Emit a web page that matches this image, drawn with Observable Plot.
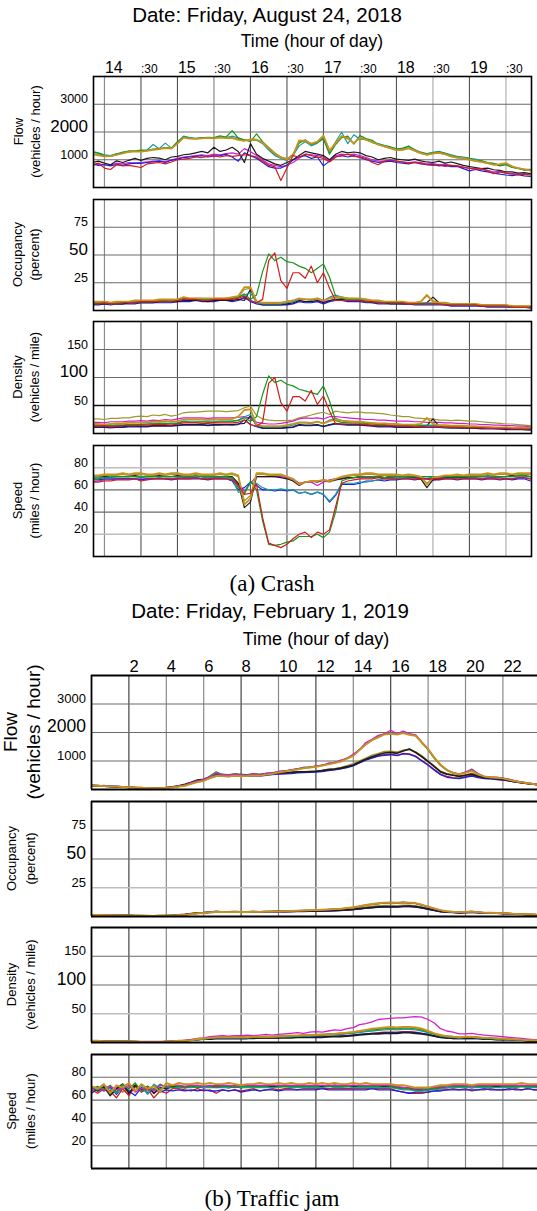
<!DOCTYPE html>
<html>
<head>
<meta charset="utf-8">
<script src="https://cdn.jsdelivr.net/npm/d3@7"></script>
<script src="https://cdn.jsdelivr.net/npm/@observablehq/plot@0.6"></script>
<style>
html,body{margin:0;padding:0;background:#fff;}
body{width:537px;height:1211px;position:relative;overflow:hidden;}
#page{position:relative;width:537px;height:1211px;}
#page svg{position:absolute;left:0;}
</style>
</head>
<body>
<div id="page"></div>
<script>
// ---------------- categories / ticks ----------------
const seriesKeys = ["olive","teal","green","gold","magenta","blue","black","red"];
const seriesColors = {olive:"#9c9a2e", teal:"#189ea8", green:"#18961a", gold:"#c8921c", magenta:"#d21ed2", blue:"#1e1ee0", black:"#1c1c1c", red:"#d21c1c"};

const titleA = "Date: Friday, August 24, 2018";
const titleB = "Date: Friday, February 1, 2019";
const timeTitle = "Time (hour of day)";
const captionA = "(a) Crash";
const captionB = "(b) Traffic jam";

const xTicksA = [14,14.5,15,15.5,16,16.5,17,17.5,18,18.5,19,19.5];
const xLabelsA = ["14",":30","15",":30","16",":30","17",":30","18",":30","19",":30"];
const xTicksB = [2,4,6,8,10,12,14,16,18,20,22];
const xLabelsB = ["2","4","6","8","10","12","14","16","18","20","22"];

const flowTicks = [1000,2000,3000];
const occTicks = [25,50,75];
const densTicks = [50,100,150];
const speedTicks = [20,40,60,80];
const flowLabel = ["Flow","(vehicles / hour)"];
const occLabel = ["Occupancy","(percent)"];
const densLabel = ["Density","(vehicles / mile)"];
const speedLabel = ["Speed","(miles / hour)"];

// sample times: (a) every 5 min from 13:50, (b) every 20 min from 0:00
const timesA = d3.range(73).map(i => 13 + 50/60 + i*5/60);
const timesB = d3.range(73).map(i => i/3);

// ---------------- (a) Crash: Flow ----------------
const aFlowGreen = [1280,1230,1150,1120,1200,1280,1300,1320,1350,1340,1380,1400,1430,1420,1650,1830,1790,1760,1790,1810,1800,1860,1820,2050,1780,1720,1650,1930,1650,1400,1200,1100,1000,1200,1600,1720,1550,1620,1750,1200,1550,1800,1850,1560,1870,1760,1700,1560,1500,1470,1380,1420,1480,1370,1260,1200,1260,1280,1240,1150,1100,1080,1040,980,960,900,870,780,820,720,690,620,640];
const aFlowTeal = [1300,1250,1180,1150,1220,1250,1320,1300,1330,1350,1550,1400,1600,1420,1620,1850,1800,1770,1800,1780,1790,1820,1800,1850,1790,1700,1720,1700,1580,1350,1150,1050,980,1150,1500,1650,1500,1600,1800,1250,1650,1990,1580,1900,1740,1720,1620,1580,1520,1450,1400,1380,1500,1340,1280,1220,1270,1300,1230,1180,1120,1100,1050,1020,960,880,860,800,840,730,700,660,650];
const aFlowGold = [1200,1160,1120,1130,1180,1230,1280,1300,1290,1320,1360,1380,1420,1400,1580,1800,1760,1750,1770,1790,1770,1800,1780,1780,1720,1680,1730,1720,1620,1420,1230,1080,1020,1150,1700,1680,1580,1650,1870,1330,1600,1850,1780,1600,1800,1720,1640,1550,1480,1420,1350,1360,1420,1330,1240,1180,1230,1250,1200,1120,1080,1060,1000,960,920,880,820,840,880,760,700,650,620];
const aFlowOlive = [1220,1180,1140,1150,1200,1240,1290,1310,1300,1330,1370,1390,1440,1410,1600,1810,1770,1760,1780,1800,1780,1810,1790,1800,1740,1690,1740,1730,1640,1450,1250,1100,1040,1170,1680,1660,1560,1630,1850,1320,1580,1830,1760,1590,1780,1710,1630,1540,1470,1410,1340,1350,1410,1320,1230,1170,1220,1240,1190,1110,1070,1050,990,950,910,870,810,830,860,750,690,640,610];
const aFlowBlack = [900,950,880,820,960,900,980,1050,980,1050,1080,1060,1000,1100,1120,1180,1200,1250,1300,1250,1450,1300,1350,1450,1300,900,1580,1200,1050,950,850,800,900,1000,1150,1300,1250,1200,1150,1000,1200,1300,1250,1280,1250,1150,1100,1000,1050,1080,1020,1000,980,1020,960,920,900,950,880,920,860,800,750,720,680,700,640,620,560,560,520,540,500];
const aFlowRed = [820,880,700,650,820,780,800,760,720,850,880,900,850,920,1000,1020,1050,1100,1080,1120,1150,1100,1150,1120,1150,1180,1150,1100,950,800,750,250,700,1150,1100,1200,1150,1100,1050,920,1100,1150,1200,1120,1100,1050,900,820,950,1000,950,920,880,900,880,820,800,820,760,800,780,720,700,650,680,600,500,560,520,480,460,480,450];
const aFlowBlue = [850,800,820,780,830,800,850,880,870,900,920,950,900,980,1020,1080,1100,1120,1150,1100,1130,1150,1200,1100,950,1250,1150,1050,900,750,700,700,800,1000,1100,1150,1050,1100,780,950,1100,1150,1100,1150,1080,1000,950,900,920,950,900,880,850,900,850,820,830,780,800,750,760,680,600,650,600,560,520,480,450,430,460,420,400];
const aFlowMagenta = [800,850,820,800,880,850,900,880,900,920,950,960,930,1000,1050,1100,1120,1150,1180,1150,1200,1180,1220,1250,1200,1400,1300,1150,1000,850,800,750,800,900,1050,1200,1180,1150,1100,950,1150,1200,1180,1200,1150,1080,1000,950,950,980,950,920,900,920,900,850,860,820,840,800,780,740,680,700,650,620,560,580,520,500,480,500,480];

// ---------------- (a) Crash: Occupancy ----------------
const aOccGold = [8,8,8,7,8,8,8,9,9,9,9,10,10,10,10,12,11,11,11,11,11,11,11,12,13,21,21,8,7,7,7,7,8,9,11,10,10,11,9,11,12,12,11,11,11,10,9,9,8,8,8,8,7,7,8,14,8,7,7,6,6,6,6,6,5,5,5,5,5,4,4,4,4];
const aOccOlive = [7,7,8,7,8,8,8,9,9,9,9,9,10,9,10,11,11,11,11,10,11,11,11,11,12,19,20,8,7,7,7,7,8,9,10,10,10,10,9,11,12,11,11,11,10,10,9,9,8,8,8,7,7,7,8,13,9,7,7,6,6,6,6,5,5,5,5,5,4,4,4,4,4];
const aOccTeal = [7,7,7,6,7,7,8,8,8,8,8,9,9,9,9,11,10,10,10,10,10,10,11,11,12,14,16,7,6,6,6,6,7,8,10,10,9,11,9,12,14,12,11,10,10,10,9,8,8,7,7,7,7,6,7,7,7,6,6,6,5,5,5,5,5,5,4,4,4,4,3,3,3];
const aOccGreen = [7,7,7,6,7,7,8,8,8,8,8,9,9,8,9,11,10,10,10,10,10,10,10,11,12,15,10,14,35,51,45,48,44,43,40,38,34,38,42,30,13,11,10,10,10,9,8,8,7,7,7,7,7,6,6,6,6,6,6,5,5,5,5,5,5,4,4,4,4,3,3,3,3];
const aOccRed = [6,6,7,6,6,7,7,7,8,8,8,8,8,8,9,10,10,10,9,9,10,10,10,10,11,13,9,7,10,45,52,27,20,34,34,29,40,25,34,20,9,9,9,9,9,8,8,7,7,7,7,7,6,6,6,6,6,6,5,5,5,5,5,5,4,4,4,4,4,3,3,3,3];
const aOccBlack = [6,6,6,6,6,6,7,7,7,7,7,8,8,8,8,9,9,9,9,8,9,9,9,9,10,9,19,8,5,5,5,5,6,7,9,8,8,9,7,9,10,10,9,9,9,8,7,7,7,6,6,6,6,6,6,7,12,7,6,5,5,5,5,5,4,4,4,4,4,3,3,3,3];
const aOccBlue = [5,5,6,5,6,6,6,6,7,7,7,7,7,7,8,8,8,9,8,8,8,9,9,8,9,12,8,6,5,5,5,5,5,6,8,7,7,8,6,8,9,9,8,8,8,7,7,6,6,6,6,6,6,5,5,5,5,5,5,4,4,4,4,4,4,3,3,3,3,3,3,3,2];
const aOccMagenta = [6,6,6,6,6,6,7,7,7,7,7,8,8,8,8,9,9,9,9,9,9,9,9,9,10,11,9,7,6,6,6,6,6,7,9,8,8,9,8,9,10,10,9,9,9,8,8,7,7,7,7,6,6,6,6,6,6,6,5,5,5,5,5,5,4,4,4,4,4,4,3,3,3];

// ---------------- (a) Crash: Density ----------------
const aDensOlive = [26,26,25,27,27,28,28,30,31,30,33,32,34,31,33,37,38,38,39,40,40,40,39,40,41,46,49,32,26,24,23,23,23,24,28,30,33,36,38,34,40,38,37,38,38,37,37,36,35,33,32,30,30,28,27,26,26,24,24,23,24,23,22,22,21,20,19,18,17,17,16,15,14];
const aDensMagenta = [20,20,19,21,21,21,22,22,23,22,24,23,25,24,26,28,28,28,28,27,28,28,28,28,29,30,27,20,18,17,17,18,20,22,26,28,27,28,26,30,30,29,28,27,26,25,25,24,24,23,22,22,22,21,21,20,20,20,19,19,18,18,17,17,16,16,15,15,14,14,13,13,12];
const aDensGold = [17,17,16,17,18,18,19,19,20,20,21,21,22,21,22,25,25,25,25,24,25,25,25,26,30,42,43,16,13,13,13,13,15,17,20,20,19,21,18,22,25,23,22,21,21,20,19,18,18,17,17,16,16,16,17,28,17,15,15,14,14,14,13,13,12,12,11,11,11,10,10,10,10];
const aDensTeal = [14,14,15,14,15,15,16,16,17,17,18,18,18,18,19,22,21,21,21,21,21,22,22,22,24,30,34,14,12,12,12,12,13,15,19,19,18,21,18,24,27,23,21,21,20,19,18,17,17,16,16,15,15,14,15,15,15,14,14,13,13,12,12,12,11,11,10,10,10,9,9,9,9];
const aDensGreen = [15,15,15,14,15,15,16,16,16,17,17,18,18,17,18,21,20,20,21,20,20,21,21,22,23,28,22,30,70,103,91,95,88,85,79,76,73,70,85,58,23,20,19,19,19,18,17,16,16,15,15,15,14,14,14,14,13,13,13,12,12,12,11,11,11,10,10,10,9,9,9,8,8];
const aDensRed = [13,13,14,12,13,14,14,14,15,15,16,16,16,15,17,19,19,19,18,18,19,19,19,19,20,24,16,13,20,90,100,55,40,66,66,58,77,52,67,40,17,17,17,17,17,16,15,14,14,14,13,13,13,12,12,12,12,12,11,11,11,10,10,10,10,9,9,9,9,8,8,8,8];
const aDensBlack = [12,12,12,12,12,12,13,13,13,13,14,14,14,14,15,16,16,16,16,15,16,16,16,16,17,18,32,14,10,10,10,10,11,12,16,15,15,16,13,16,18,17,16,16,16,15,14,13,13,13,12,12,12,11,12,14,26,13,11,10,10,10,10,9,9,9,9,8,8,8,8,7,7];
const aDensBlue = [11,11,11,10,11,11,12,12,12,12,13,13,13,13,14,15,15,15,15,14,15,15,16,15,16,24,16,12,9,9,9,9,10,11,15,14,14,15,12,15,17,16,15,15,15,14,13,12,12,12,11,11,11,11,11,11,11,11,10,10,10,9,9,9,8,8,8,8,7,7,7,7,6];

// ---------------- (a) Crash: Speed ----------------
const aSpeedGold = [73,73,74,74,74,75,74,75,75,74,74,75,74,75,75,74,74,75,74,74,74,75,74,75,73,47,52,75,75,74,74,74,72,70,65,67,68,68,69,68,70,72,73,74,74,75,75,74,74,74,74,73,74,73,72,65,71,72,73,73,74,73,74,74,74,75,74,75,75,74,75,75,75];
const aSpeedOlive = [72,72,73,73,73,74,73,74,74,73,73,74,73,74,74,73,73,74,73,73,73,74,73,74,72,50,55,74,74,73,73,73,71,69,66,67,67,68,68,67,69,71,72,73,73,74,74,73,73,73,73,72,73,72,71,66,70,71,72,72,73,72,73,73,73,74,73,74,74,73,74,74,74];
const aSpeedBlack = [71,71,72,72,72,72,72,73,72,72,72,73,72,72,73,72,72,72,72,71,72,72,72,72,66,44,49,72,72,72,72,71,70,68,64,67,68,67,69,68,69,70,71,71,72,72,72,72,71,72,72,71,72,71,70,62,69,70,71,71,71,71,72,72,72,72,72,72,72,73,72,73,72];
const aSpeedGreen = [70,70,71,71,72,72,72,72,71,72,72,72,72,72,72,72,72,73,72,72,72,72,72,71,62,56,68,60,32,11,10,11,13,14,18,18,18,20,17,22,40,68,70,71,72,72,72,72,71,72,72,72,72,72,72,72,71,72,72,72,72,72,72,72,72,73,72,72,72,72,73,73,72];
const aSpeedRed = [67,67,68,68,69,69,69,70,68,69,70,70,70,70,70,70,70,71,70,70,70,70,70,69,64,56,57,65,35,12,10,8,11,16,20,22,17,22,20,24,45,66,68,69,70,70,70,71,70,70,70,70,70,70,70,70,70,70,70,70,70,70,70,70,70,70,70,70,70,70,71,71,70];
const aSpeedTeal = [71,71,71,72,72,72,72,72,72,72,72,72,72,72,72,72,72,72,72,71,72,72,71,70,58,58,66,66,62,60,60,61,60,60,57,58,56,58,56,50,56,66,66,66,67,67,68,69,70,70,71,71,72,72,72,72,72,72,72,72,72,72,72,72,72,72,72,72,72,72,72,72,72];
const aSpeedBlue = [69,69,70,70,70,70,70,70,69,70,70,70,70,69,70,70,70,70,70,69,70,70,70,68,60,62,67,64,60,60,59,60,59,60,57,58,56,58,56,49,55,65,65,65,66,68,68,69,68,69,69,70,70,69,70,70,69,69,70,70,69,70,70,70,69,70,70,69,70,69,70,70,68];
const aSpeedMagenta = [67,68,69,69,70,70,70,70,70,70,70,71,70,70,71,71,71,71,70,70,71,71,71,70,65,59,66,72,72,72,72,72,71,70,66,67,67,64,67,69,70,70,71,71,71,71,71,72,71,71,71,71,71,71,71,70,70,71,71,71,71,71,71,71,70,71,71,71,70,70,71,71,70];

// ---------------- (b) Traffic jam: Flow ----------------
const bFlowMagenta = [160,130,140,110,120,90,90,60,70,50,60,50,70,80,120,150,240,290,350,440,580,510,520,530,520,490,560,510,570,570,640,640,700,710,780,770,840,840,930,940,1030,1090,1240,1390,1650,1760,1900,1950,2080,1960,2050,1960,1920,1660,1420,1120,870,680,600,530,620,700,560,460,440,430,400,360,300,270,230,200,170];
const bFlowGreen = [150,140,120,120,100,100,70,70,50,50,50,60,60,80,100,160,210,310,320,470,620,520,490,550,500,510,530,530,550,590,610,660,670,730,750,790,810,860,890,960,990,1110,1190,1410,1580,1740,1840,1960,1950,1940,1990,1930,1890,1640,1390,1090,840,690,570,550,590,720,540,460,420,420,390,350,290,260,220,200,160];
const bFlowTeal = [140,140,130,110,110,100,80,60,60,50,50,50,60,80,110,140,220,300,340,440,560,530,500,540,510,500,540,520,560,580,630,650,690,720,770,780,820,850,900,950,1010,1090,1210,1390,1600,1750,1860,1940,1980,1950,2010,1940,1900,1650,1400,1100,850,670,580,540,600,680,550,450,430,420,400,350,300,260,230,200,170];
const bFlowGold = [140,130,120,110,100,90,80,60,60,50,50,50,60,70,100,130,200,260,300,400,480,470,460,480,470,470,490,480,520,550,600,630,670,700,740,770,800,840,880,930,980,1080,1180,1380,1580,1730,1830,1930,1950,1930,1980,1920,1880,1650,1420,1120,870,690,580,540,580,650,530,460,430,410,390,340,290,250,220,190,160];
const bFlowBlack = [140,130,120,110,100,90,80,70,60,50,50,60,70,90,130,180,250,330,360,450,520,520,510,530,520,510,540,520,560,570,600,590,600,620,620,630,640,660,700,720,750,800,860,960,1060,1150,1220,1280,1300,1270,1350,1420,1300,1150,980,800,620,540,500,460,500,540,470,420,400,380,350,310,270,240,210,190,160];
const bFlowOlive = [140,130,120,110,100,90,80,70,60,50,50,55,65,85,120,170,240,320,350,440,510,510,500,520,510,500,530,510,550,560,590,580,600,610,620,630,650,670,710,730,770,830,900,1000,1100,1200,1260,1330,1340,1310,1380,1400,1320,1180,1000,820,640,550,510,470,510,560,480,430,410,390,360,320,280,240,210,190,160];
const bFlowBlue = [130,120,110,100,90,80,70,60,50,50,45,50,60,80,110,160,230,300,330,400,460,460,450,470,460,460,480,470,500,520,540,550,560,580,590,600,610,630,660,690,720,770,830,930,1030,1100,1170,1200,1220,1190,1250,1230,1150,1000,850,680,520,430,400,380,430,470,420,380,370,350,330,300,260,230,200,180,150];
const bFlowRed = [140,120,120,100,100,80,80,60,60,50,50,50,60,80,110,150,210,280,320,420,500,480,460,490,470,470,500,480,520,530,560,560,580,600,600,620,630,650,680,700,730,790,850,950,1050,1120,1180,1220,1240,1200,1270,1250,1170,1020,870,700,540,460,420,400,450,500,440,390,380,360,340,300,270,240,210,180,150];

// ---------------- (b) Traffic jam: Occupancy ----------------
const bOccMagenta = [1.6,1.4,1.4,1.1,1.2,1,0.9,0.8,0.8,0.6,0.7,0.6,0.8,0.9,1.3,1.5,2.3,2.7,3.3,3.7,4.4,3.9,4,4,4.1,3.8,4.2,3.9,4.3,4.2,4.6,4.5,4.9,4.9,5.3,5.2,5.6,5.6,6.1,6.2,6.8,7.1,8,8.7,10,10.5,11.4,11.7,12.3,11.7,12.4,11.7,11.5,9.8,8.5,6.7,5.5,4.4,4.1,3.6,4.1,4.4,3.8,3.2,3.2,3,3,2.6,2.4,2.1,2,1.7,1.6];
const bOccGreen = [1.5,1.4,1.3,1.2,1,1,0.9,0.7,0.7,0.6,0.6,0.6,0.7,0.9,1.1,1.6,2.1,2.9,3.1,3.9,4.5,4,3.8,4.2,3.9,4,4,4.1,4.1,4.4,4.4,4.7,4.7,5.1,5.1,5.4,5.4,5.8,5.9,6.4,6.5,7.3,7.7,8.9,9.7,10.7,11.1,11.9,11.9,11.9,12.1,11.9,11.3,10.1,8.3,6.9,5.3,4.6,3.9,3.8,3.9,4.4,3.6,3.4,3,3.1,2.8,2.7,2.2,2.2,1.8,1.8,1.4];
const bOccTeal = [1.5,1.4,1.3,1.2,1.1,1,0.9,0.8,0.7,0.6,0.6,0.6,0.7,0.9,1.2,1.5,2.2,2.8,3.2,3.8,4.2,4,3.9,4.1,4,3.9,4.1,4,4.2,4.3,4.5,4.6,4.8,5,5.2,5.3,5.5,5.7,6,6.3,6.6,7.2,7.8,8.8,9.8,10.6,11.2,11.8,12,11.8,12.2,11.8,11.4,10,8.4,6.8,5.4,4.5,4,3.7,4,4.3,3.7,3.3,3.1,3,2.9,2.6,2.3,2.1,1.9,1.7,1.5];
const bOccGold = [1.4,1.3,1.2,1.1,1,0.9,0.8,0.7,0.6,0.6,0.5,0.6,0.7,0.8,1.1,1.4,2,2.6,3,3.6,4,3.9,3.8,4,3.9,3.9,4,4,4.2,4.3,4.5,4.7,4.9,5.1,5.3,5.5,5.7,5.9,6.2,6.5,6.8,7.4,8,9,10,10.9,11.5,12.1,12.3,12.1,12.5,12.1,11.7,10.3,8.6,7,5.5,4.6,4.1,3.8,4,4.3,3.8,3.4,3.2,3.1,2.9,2.6,2.3,2.1,1.9,1.7,1.5];
const bOccBlack = [1.5,1.4,1.3,1.2,1.1,1,0.9,0.8,0.7,0.6,0.6,0.7,0.8,1,1.4,1.8,2.5,3.1,3.4,3.9,4.2,4.1,4,4.2,4.1,4,4.2,4.1,4.3,4.3,4.4,4.4,4.5,4.6,4.6,4.7,4.8,4.9,5.1,5.3,5.5,5.8,6.2,6.8,7.4,7.9,8.3,8.6,8.7,8.5,8.9,9.1,8.6,7.7,6.6,5.5,4.5,4,3.7,3.4,3.6,3.9,3.5,3.1,3,2.9,2.7,2.4,2.1,1.9,1.7,1.6,1.4];
const bOccOlive = [1.5,1.4,1.3,1.2,1.1,1,0.9,0.8,0.7,0.6,0.6,0.7,0.8,1,1.3,1.7,2.4,3,3.3,3.8,4.1,4.1,4,4.1,4.1,4,4.2,4.1,4.3,4.4,4.5,4.5,4.6,4.7,4.8,4.9,5,5.2,5.4,5.6,5.9,6.3,6.8,7.5,8.2,8.8,9.2,9.5,9.6,9.4,9.8,9.8,9.3,8.3,7,5.8,4.7,4.1,3.8,3.5,3.7,4,3.6,3.2,3.1,2.9,2.8,2.5,2.2,2,1.8,1.6,1.4];
const bOccBlue = [1.3,1.2,1.1,1,0.9,0.8,0.7,0.6,0.5,0.5,0.5,0.5,0.6,0.8,1.1,1.5,2.1,2.7,3,3.4,3.7,3.7,3.6,3.8,3.7,3.7,3.8,3.7,3.9,4,4.1,4.1,4.2,4.3,4.3,4.4,4.5,4.6,4.8,5,5.2,5.5,5.9,6.5,7.1,7.6,8,8.2,8.4,8.2,8.6,8.7,8.2,7.3,6.2,5.1,4.1,3.6,3.3,3,3.3,3.6,3.2,2.9,2.8,2.7,2.5,2.2,2,1.8,1.6,1.4,1.2];
const bOccRed = [1.4,1.3,1.2,1.1,1,0.9,0.8,0.7,0.6,0.5,0.5,0.6,0.7,0.9,1.2,1.6,2.2,2.8,3.1,3.6,3.9,3.8,3.7,3.9,3.8,3.8,4,3.9,4.1,4.1,4.2,4.2,4.3,4.4,4.4,4.5,4.6,4.7,4.9,5.1,5.3,5.6,6,6.6,7.2,7.7,8.1,8.4,8.5,8.3,8.7,8.8,8.4,7.5,6.4,5.3,4.3,3.8,3.5,3.2,3.4,3.7,3.3,3,2.9,2.8,2.6,2.3,2.1,1.9,1.7,1.5,1.3];

// ---------------- (b) Traffic jam: Density ----------------
const bDensMagenta = [3,3,3,2,2,2,2,2,2,2,2,2,2,3,3,4,5,7,8,10,11,12,11,12,12,13,12,13,14,13,14,15,16,17,16,18,19,18,20,22,21,24,26,31,33,36,40,41,42,43,43,44,45,44,40,34,24,20,18,15,15,16,14,13,12,11,10,9,8,7,6,5,4];
const bDensGold = [3,3,2,2,2,2,2,2,1,1,1,1,2,2,3,3,4,6,7,8,9,9,9,9,9,9,10,10,10,10,11,11,12,12,13,13,13,14,14,15,16,17,18,20,22,24,25,26,27,26,27,27,26,24,20,16,13,11,10,9,10,10,9,8,8,7,7,6,5,5,4,4,3];
const bDensOlive = [3,3,2,2,2,2,2,2,1,1,1,1,2,2,3,3,5,6,7,8,9,9,10,9,10,9,10,10,11,10,11,12,12,12,13,13,14,14,15,15,16,17,18,20,21,23,24,25,26,25,26,26,25,23,19,15,12,11,10,9,9,10,9,8,7,7,6,6,5,5,4,4,3];
const bDensTeal = [3,3,2,2,2,2,2,1,1,1,1,1,2,2,3,3,4,5,6,7,8,8,8,8,8,8,9,9,9,9,10,10,10,11,11,11,12,12,13,13,14,15,16,17,19,20,21,22,23,22,23,23,22,20,17,14,11,10,9,8,9,9,8,7,7,6,6,5,5,4,4,3,3];
const bDensGreen = [3,3,2,2,2,2,2,2,1,1,1,1,2,2,3,3,4,6,7,8,9,9,9,9,9,9,10,9,10,10,11,11,11,12,12,13,13,13,14,14,15,16,17,19,21,22,23,24,25,24,25,25,24,22,18,15,12,11,10,9,9,10,9,8,7,7,6,6,5,5,4,4,3];
const bDensBlack = [3,3,2,2,2,2,2,1,1,1,1,1,1,2,2,3,4,5,6,6,7,7,7,7,7,7,7,8,8,8,8,8,8,9,9,9,9,9,10,10,10,11,12,13,14,15,15,16,16,16,17,17,16,15,13,11,9,8,7,7,7,7,7,6,6,5,5,5,4,4,3,3,3];
const bDensBlue = [3,2,2,2,2,2,1,1,1,1,1,1,1,2,2,3,4,5,6,6,7,7,7,7,7,7,8,8,8,8,8,9,9,9,9,9,10,10,10,11,11,12,13,14,15,16,16,17,17,17,18,18,17,16,14,11,9,8,7,7,7,7,7,6,6,5,5,5,4,4,3,3,3];
const bDensRed = [3,3,2,2,2,2,2,1,1,1,1,1,2,2,3,3,4,5,6,7,7,7,7,7,7,7,8,8,8,8,9,9,9,9,10,10,10,10,11,11,12,12,13,14,15,16,17,18,18,18,19,19,18,16,14,12,10,8,8,7,8,8,7,7,6,6,5,5,4,4,4,3,3];

// ---------------- (b) Traffic jam: Speed ----------------
const bSpeedGold = [72,70,74,66,73,71,75,68,74,70,72,67,75,73,75,74,74,75,74,75,74,74,75,74,73,74,74,75,74,74,75,74,75,74,74,75,74,75,74,75,74,74,75,74,75,74,74,74,74,73,73,72,71,71,71,72,73,73,74,74,74,73,74,74,74,74,74,74,74,75,74,74,74];
const bSpeedBlack = [71,68,72,64,70,74,66,73,69,72,66,71,70,72,72,71,72,72,71,72,72,72,71,72,71,72,72,72,72,72,72,72,72,72,72,72,73,72,72,73,72,72,72,72,72,72,72,72,72,71,71,70,69,69,69,70,71,71,72,72,72,71,72,72,72,72,72,72,72,72,72,72,72];
const bSpeedRed = [69,66,70,68,62,70,64,72,67,70,62,68,66,70,70,69,68,70,68,69,66,69,68,69,68,69,70,68,69,70,69,70,70,69,70,70,70,70,70,70,70,70,70,70,70,70,70,70,70,68,67,66,66,66,67,68,69,69,70,69,70,68,69,69,70,69,69,69,70,69,70,69,69];
const bSpeedBlue = [66,70,68,71,65,72,68,64,71,66,70,67,69,68,69,68,69,68,69,68,68,69,68,69,67,68,69,68,69,69,68,69,69,69,69,69,69,70,69,69,69,69,69,69,69,70,69,69,69,68,67,66,67,67,67,68,68,69,69,69,69,69,69,70,69,69,69,70,69,69,70,69,69];
const bSpeedGreen = [70,72,69,73,67,74,70,75,68,72,69,74,71,71,72,71,72,71,72,72,71,72,72,71,72,72,72,72,72,73,72,72,72,72,72,72,72,73,72,72,72,72,73,72,72,72,72,73,72,71,70,70,69,69,70,70,71,72,72,72,72,72,72,72,72,73,72,72,72,72,72,72,73];
const bSpeedTeal = [71,69,73,70,66,72,74,69,73,65,74,70,72,71,71,71,71,72,71,71,71,71,71,72,71,71,71,71,71,71,71,72,71,71,71,71,71,71,72,71,71,72,71,71,71,71,71,71,71,70,69,69,68,68,69,69,70,71,71,71,71,71,71,71,71,71,71,71,71,72,71,71,71];
const bSpeedMagenta = [70,71,68,72,69,70,73,67,70,71,68,73,72,73,73,72,73,73,72,73,72,73,73,72,73,73,73,73,73,73,73,73,73,73,73,73,73,73,73,73,73,73,73,73,73,73,73,73,73,72,71,71,70,70,71,71,72,72,73,73,73,72,73,73,73,73,73,73,73,73,73,73,73];
const bSpeedOlive = [72,70,71,68,72,67,71,73,70,68,73,69,72,72,73,72,72,73,72,72,73,72,72,73,72,72,73,72,72,72,73,72,72,72,73,72,72,72,73,72,72,72,73,72,72,72,73,72,72,71,70,70,69,69,70,71,71,72,72,72,73,72,72,72,73,72,72,72,72,73,72,72,72];

// ---------------- rendering ----------------
const FONT = '"Liberation Sans", Arial, Helvetica, sans-serif';
const SERIF = '"Liberation Serif", "Times New Roman", serif';
const page = document.getElementById("page");

function rowsOf(times, bySeries, order) {
  return order.flatMap(s => bySeries[s].map((v, i) => ({t: times[i], v, s})));
}

function addPanel(o) {
  const mt = o.xLabels ? 28 : 2, mb = 2;
  const h = o.bottom - o.top;
  const rows = rowsOf(o.times, o.values, o.order);
  const marks = [];
  // vertical grid
  marks.push(Plot.ruleX(o.xTicks.filter(d => !o.vLight.includes(d) && !o.vMid.includes(d)), {stroke: o.vDark, strokeWidth: 1.1}));
  marks.push(Plot.ruleX(o.xTicks.filter(d => o.vMid.includes(d)), {stroke: "#8a8a8a", strokeWidth: 1.2}));
  marks.push(Plot.ruleX(o.xTicks.filter(d => o.vLight.includes(d)), {stroke: "#c4c4c4", strokeWidth: 1.6}));
  // horizontal grid
  marks.push(Plot.ruleY(o.yTicks.filter(d => !(o.hLight || []).includes(d) && d !== o.hBlack), {stroke: "#6a6a6a", strokeWidth: 1.1}));
  marks.push(Plot.ruleY(o.yTicks.filter(d => (o.hLight || []).includes(d)), {stroke: "#bdbdbd", strokeWidth: 1.6}));
  if (o.hBlack != null) marks.push(Plot.ruleY([o.hBlack], {stroke: "#111", strokeWidth: 1.3}));
  // series lines
  for (const s of o.order) {
    marks.push(Plot.line(rows.filter(r => r.s === s), {
      x: "t", y: "v", stroke: seriesColors[s], strokeWidth: (o.widths[s] || o.lineW),
      strokeLinejoin: "round", clip: true
    }));
  }
  // frame
  if (o.openRight) {
    marks.push(Plot.ruleX([o.xDomain[0]], {stroke: "#000", strokeWidth: 1.8}));
    marks.push(Plot.ruleY([0, o.yMax], {stroke: "#000", strokeWidth: 1.8}));
  } else {
    marks.push(Plot.frame({stroke: "#000", strokeWidth: 1.6}));
  }
  // y tick labels
  marks.push(Plot.text(o.yTicks.filter(d => d !== o.bigTick), {
    y: d => d, text: d => String(d), frameAnchor: "left", textAnchor: "end", lineAnchor: "bottom",
    dx: -5.5, dy: -1, fontSize: o.smallFont, fontFamily: FONT, fill: "#000"
  }));
  if (o.bigTick != null) marks.push(Plot.text([o.bigTick], {
    y: d => d, text: d => String(d), frameAnchor: "left", textAnchor: "end", lineAnchor: "bottom",
    dx: -5.5, dy: -0.5, fontSize: o.bigFont, fontFamily: FONT, fill: "#000"
  }));
  // x tick labels (top)
  if (o.xLabels) {
    const lab = o.xTicks.map((t, i) => ({t, label: o.xLabels[i]}));
    const isSmall = d => d.label.startsWith(":");
    marks.push(Plot.text(lab.filter(d => !isSmall(d)), {
      x: "t", text: "label", frameAnchor: "top", textAnchor: "start", lineAnchor: "bottom",
      dy: -4, dx: 0.5, fontSize: o.hourFont, fontFamily: FONT, fill: "#000"
    }));
    marks.push(Plot.text(lab.filter(isSmall), {
      x: "t", text: "label", frameAnchor: "top", textAnchor: "start", lineAnchor: "bottom",
      dy: -4, dx: 0, fontSize: o.halfFont, fontFamily: FONT, fill: "#000"
    }));
  }
  const svg = Plot.plot({
    width: 537, height: mt + h + mb,
    marginTop: mt, marginBottom: mb, marginLeft: o.left, marginRight: 537 - o.right,
    x: {domain: o.xDomain, axis: null},
    y: {domain: [0, o.yMax], axis: null},
    style: {background: "transparent", fontFamily: FONT, overflow: "visible"},
    marks
  });
  svg.style.top = (o.top - mt) + "px";
  page.appendChild(svg);
}

const orderA = ["olive","magenta","blue","black","teal","green","gold","red"];
const orderB = ["olive","red","blue","black","teal","green","magenta","gold"];
const widthsA = {gold: 1.8};
const widthsB = {gold: 1.9, black: 1.7, olive: 1.6};

const commonA = {times: timesA, xTicks: xTicksA, xDomain: [13.85, 19.85], left: 93, right: 531,
  order: orderA, widths: widthsA, lineW: 1.2, smallFont: 12.5, bigFont: 17,
  vLight: [18.5, 19.5], vMid: [14, 15.5], vDark: "#555"};
const commonB = {times: timesB, xTicks: xTicksB, xDomain: [0, 23.85], left: 91, right: 537, openRight: true,
  order: orderB, widths: widthsB, lineW: 1.3, smallFont: 13, bigFont: 17.5,
  vLight: [], vMid: [4, 6, 10, 14, 18, 20, 22], vDark: "#333"};

// (a)
addPanel({...commonA, top: 76, bottom: 187, yMax: 4000, yTicks: flowTicks, bigTick: 2000,
  xLabels: xLabelsA, hourFont: 16, halfFont: 12,
  values: {green: aFlowGreen, teal: aFlowTeal, gold: aFlowGold, olive: aFlowOlive, black: aFlowBlack, red: aFlowRed, blue: aFlowBlue, magenta: aFlowMagenta}});
addPanel({...commonA, top: 199, bottom: 310, yMax: 100, yTicks: occTicks, bigTick: 50,
  values: {green: aOccGreen, teal: aOccTeal, gold: aOccGold, olive: aOccOlive, black: aOccBlack, red: aOccRed, blue: aOccBlue, magenta: aOccMagenta}});
addPanel({...commonA, top: 321, bottom: 433, yMax: 200, yTicks: densTicks, bigTick: 100, hBlack: 50,
  values: {green: aDensGreen, teal: aDensTeal, gold: aDensGold, olive: aDensOlive, black: aDensBlack, red: aDensRed, blue: aDensBlue, magenta: aDensMagenta}});
addPanel({...commonA, top: 445, bottom: 556, yMax: 100, yTicks: speedTicks, bigTick: null, hLight: [80, 20],
  values: {green: aSpeedGreen, teal: aSpeedTeal, gold: aSpeedGold, olive: aSpeedOlive, black: aSpeedBlack, red: aSpeedRed, blue: aSpeedBlue, magenta: aSpeedMagenta}});

// (b)
addPanel({...commonB, top: 675, bottom: 789, yMax: 4000, yTicks: flowTicks, bigTick: 2000, bigFont: 17.5,
  xLabels: xLabelsB, hourFont: 16.5, halfFont: 12,
  values: {green: bFlowGreen, teal: bFlowTeal, gold: bFlowGold, olive: bFlowOlive, black: bFlowBlack, red: bFlowRed, blue: bFlowBlue, magenta: bFlowMagenta}});
addPanel({...commonB, top: 801, bottom: 916, yMax: 100, yTicks: occTicks, bigTick: 50, hLight: [25],
  values: {green: bOccGreen, teal: bOccTeal, gold: bOccGold, olive: bOccOlive, black: bOccBlack, red: bOccRed, blue: bOccBlue, magenta: bOccMagenta}});
addPanel({...commonB, top: 927, bottom: 1042, yMax: 200, yTicks: densTicks, bigTick: 100, hLight: [50],
  values: {green: bDensGreen, teal: bDensTeal, gold: bDensGold, olive: bDensOlive, black: bDensBlack, red: bDensRed, blue: bDensBlue, magenta: bDensMagenta}});
addPanel({...commonB, top: 1054, bottom: 1168, yMax: 100, yTicks: speedTicks, bigTick: null,
  values: {green: bSpeedGreen, teal: bSpeedTeal, gold: bSpeedGold, olive: bSpeedOlive, black: bSpeedBlack, red: bSpeedRed, blue: bSpeedBlue, magenta: bSpeedMagenta}});

// ---------------- text overlay (titles, axis titles, captions) ----------------
const ov = d3.select(page).append("svg")
  .attr("width", 537).attr("height", 1211)
  .style("top", "0px").style("left", "0px").style("pointer-events", "none");

function txt(x, y, s, size, family) {
  ov.append("text").attr("x", x).attr("y", y).attr("text-anchor", "middle")
    .attr("font-family", family || FONT).attr("font-size", size).attr("fill", "#000").text(s);
}
function rotLabel(yc, lines, b1, b2, size1, size2) {
  const t = ov.append("text").attr("transform", `translate(0,${yc}) rotate(-90)`)
    .attr("text-anchor", "middle").attr("font-family", FONT).attr("fill", "#000");
  t.append("tspan").attr("x", 0).attr("y", b1).attr("font-size", size1).text(lines[0]);
  t.append("tspan").attr("x", 0).attr("y", b2).attr("font-size", size2).text(lines[1]);
}

txt(267, 22, titleA, 20.5);
txt(312, 46.5, timeTitle, 17.5);
txt(272, 591, captionA, 23, SERIF);
txt(270, 618, titleB, 20.5);
txt(316, 644.5, timeTitle, 18);
txt(272, 1206, captionB, 23, SERIF);

rotLabel((76 + 187) / 2, flowLabel, 22.5, 39.5, 13, 13);
rotLabel((199 + 310) / 2, occLabel, 21.5, 38.5, 13, 13);
rotLabel((321 + 433) / 2, densLabel, 21.5, 38.5, 13, 13);
rotLabel((445 + 556) / 2, speedLabel, 22, 39, 13, 13);

rotLabel((675 + 789) / 2, flowLabel, 16.5, 39.5, 19, 19);
rotLabel((801 + 916) / 2, occLabel, 16, 35, 13, 13);
rotLabel((927 + 1042) / 2, densLabel, 16, 35, 13, 13);
rotLabel((1054 + 1168) / 2, speedLabel, 16, 35, 13, 13);
</script>
</body>
</html>
